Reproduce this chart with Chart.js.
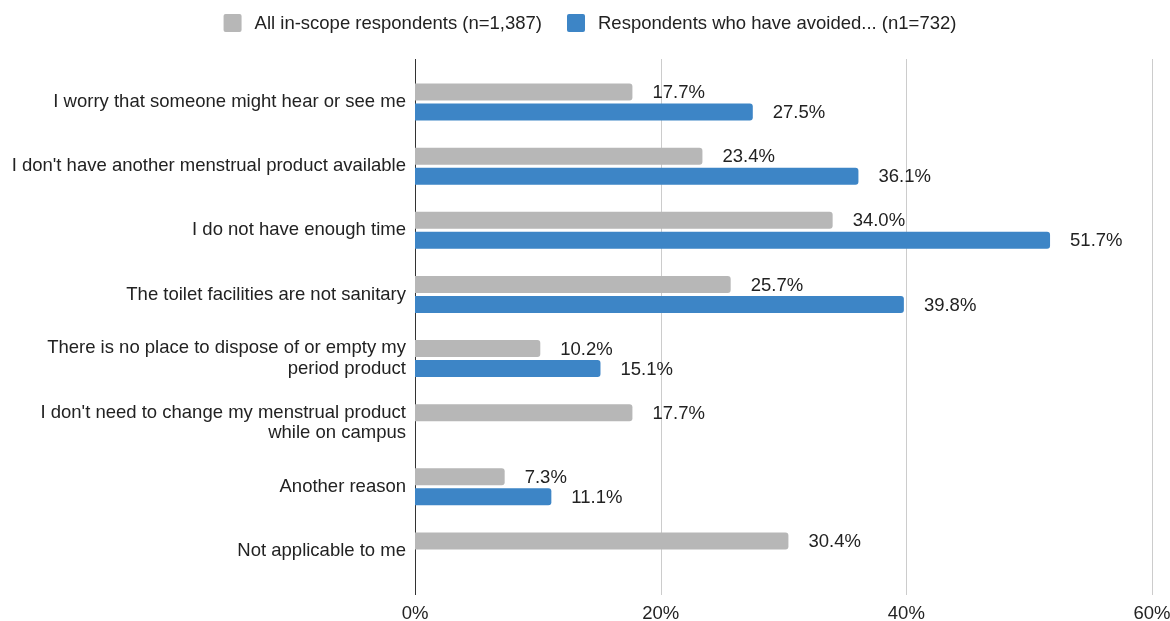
<!DOCTYPE html>
<html>
<head>
<meta charset="utf-8">
<script src="https://cdn.jsdelivr.net/npm/chart.js@4/dist/chart.umd.min.js"></script>
<style>
  html, body { margin: 0; padding: 0; background: #fff; }
  #wrap { width: 1170px; height: 621px; position: relative; }
</style>
</head>
<body>
<div id="wrap"><canvas id="reasonChart"></canvas></div>
<script>
    const categories = [
        "I worry that someone might hear or see me",
        "I don't have another menstrual product available",
        "I do not have enough time",
        "The toilet facilities are not sanitary",
        ["There is no place to dispose of or empty my", "period product"],
        ["I don't need to change my menstrual product", "while on campus"],
        "Another reason",
        "Not applicable to me"
    ];
    const allRespondents = [17.7, 23.4, 34.0, 25.7, 10.2, 17.7, 7.3, 30.4];
    const avoidedRespondents = [27.5, 36.1, 51.7, 39.8, 15.1, null, 11.1, null];
    const seriesNames = ["All in-scope respondents (n=1,387)", "Respondents who have avoided... (n1=732)"];
    const xTicks = [0, 20, 40, 60];

    const GRAY = '#b7b7b7';
    const BLUE = '#3d85c6';
    const TEXT = '#222222';
    const FONT = "'Liberation Sans', Arial, sans-serif";
    const FSIZE = 18.5;

    // legend row across the top: square swatch + label per series
    const topLegend = {
        id: 'topLegend',
        afterDraw(chart) {
            const { ctx } = chart;
            ctx.save();
            ctx.font = FSIZE + 'px ' + FONT;
            const box = 18, textGap = 13, itemGap = 25;
            const widths = chart.data.datasets.map(ds => ctx.measureText(ds.label).width);
            const total = widths.reduce((a, w) => a + box + textGap + w, 0) + itemGap * (widths.length - 1);
            let x = 590 - total / 2;
            const cy = 23;
            chart.data.datasets.forEach((ds, i) => {
                ctx.fillStyle = ds.backgroundColor;
                ctx.beginPath();
                ctx.roundRect(x, cy - box / 2, box, box, 2);
                ctx.fill();
                ctx.fillStyle = TEXT;
                ctx.textAlign = 'left';
                ctx.textBaseline = 'middle';
                ctx.fillText(ds.label, x + box + textGap, cy + 1);
                x += box + textGap + widths[i] + itemGap;
            });
            ctx.restore();
        }
    };

    // vertical grid + zero line, running a little past the bars
    const gridPlugin = {
        id: 'longGrid',
        beforeDatasetsDraw(chart) {
            const { ctx, chartArea, scales } = chart;
            ctx.save();
            xTicks.forEach(v => {
                const x = Math.round(scales.x.getPixelForValue(v)) + 0.5;
                ctx.strokeStyle = v === 0 ? '#333333' : '#cccccc';
                ctx.lineWidth = 1;
                ctx.beginPath();
                ctx.moveTo(x, chartArea.top - 11);
                ctx.lineTo(x, chartArea.bottom + 12);
                ctx.stroke();
            });
            ctx.restore();
        }
    };

    // value labels to the right of each bar
    const valueLabels = {
        id: 'valueLabels',
        afterDatasetsDraw(chart) {
            const { ctx } = chart;
            ctx.save();
            ctx.font = FSIZE + 'px ' + FONT;
            ctx.fillStyle = TEXT;
            ctx.textAlign = 'left';
            ctx.textBaseline = 'middle';
            chart.data.datasets.forEach((ds, i) => {
                chart.getDatasetMeta(i).data.forEach((bar, j) => {
                    const v = ds.data[j];
                    if (v === null) return;
                    ctx.fillText(v.toFixed(1) + '%', bar.x + 20, bar.y + 1);
                });
            });
            ctx.restore();
        }
    };

    const ctx = document.getElementById('reasonChart').getContext('2d');
    const reasonChart = new Chart(ctx, {
        type: 'bar',
        data: {
            labels: categories,
            datasets: [{
                label: seriesNames[0],
                data: allRespondents,
                backgroundColor: GRAY,
                borderRadius: 3,
                categoryPercentage: 0.625,
                barPercentage: 0.85
            }, {
                label: seriesNames[1],
                data: avoidedRespondents,
                backgroundColor: BLUE,
                borderRadius: 3,
                categoryPercentage: 0.625,
                barPercentage: 0.85
            }]
        },
        options: {
            indexAxis: 'y',
            responsive: true,
            maintainAspectRatio: false,
            animation: false,
            layout: { padding: { left: 0, right: 0, top: 70, bottom: 0 } },
            scales: {
                x: {
                    min: 0,
                    max: 60,
                    grid: { display: false, drawTicks: false },
                    border: { display: false },
                    afterBuildTicks: (s) => { s.ticks = xTicks.map(v => ({ value: v })); },
                    afterFit: (s) => {
                        s.height = 38;
                        s.paddingLeft = 0;
                        s.paddingRight = 18;
                    },
                    ticks: {
                        color: TEXT,
                        font: { family: FONT, size: FSIZE, lineHeight: 1 },
                        padding: 22,
                        maxRotation: 0,
                        callback: (v) => v + '%'
                    }
                },
                y: {
                    grid: { display: false, drawTicks: false },
                    border: { display: false },
                    afterFit: (s) => { s.width = 415; },
                    ticks: {
                        color: TEXT,
                        font: { family: FONT, size: FSIZE, lineHeight: 1.1 },
                        padding: 9
                    }
                }
            },
            plugins: {
                legend: { display: false },
                tooltip: { enabled: false }
            }
        },
        plugins: [gridPlugin, valueLabels, topLegend]
    });
</script>
</body>
</html>
